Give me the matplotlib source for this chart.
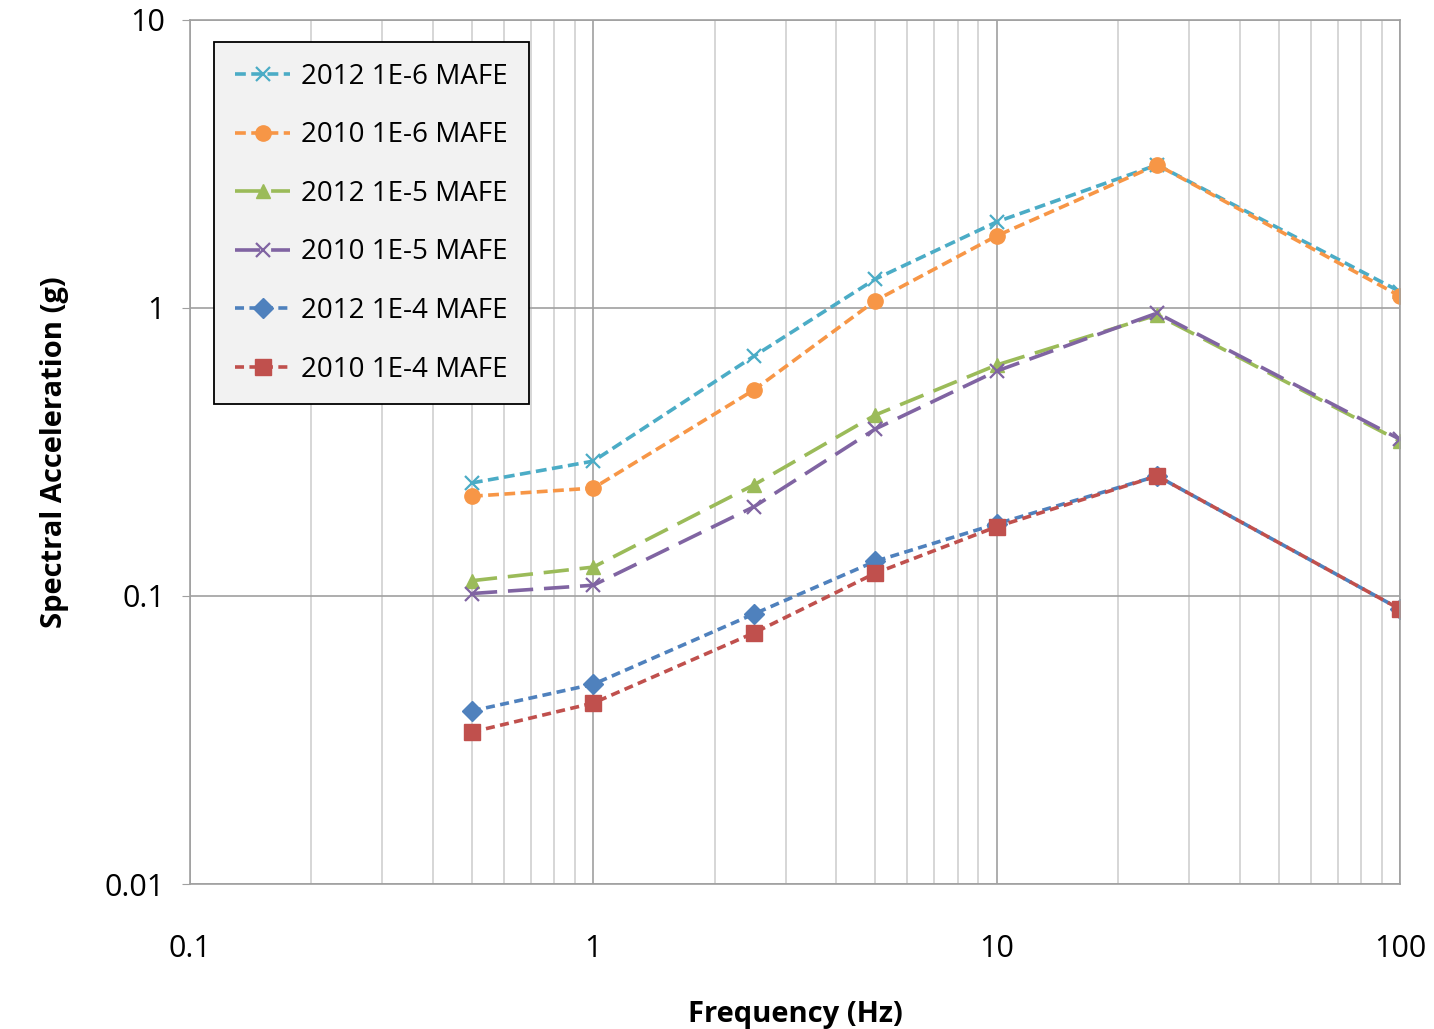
import matplotlib
matplotlib.use("Agg")
import matplotlib.pyplot as plt
import matplotlib.ticker as ticker

plt.rcParams['font.family'] = ['Open Sans', 'DejaVu Sans']

# frequencies (Hz)
freq = [0.5, 1, 2.5, 5, 10, 25, 100]

sa_2012_1e6 = [0.247, 0.294, 0.68, 1.26, 1.99, 3.14, 1.14]
sa_2010_1e6 = [0.222, 0.237, 0.519, 1.06, 1.78, 3.14, 1.10]
sa_2012_1e5 = [0.113, 0.126, 0.243, 0.425, 0.634, 0.946, 0.345]
sa_2010_1e5 = [0.102, 0.109, 0.204, 0.38, 0.604, 0.96, 0.35]
sa_2012_1e4 = [0.0399, 0.0494, 0.0866, 0.132, 0.178, 0.261, 0.090]
sa_2010_1e4 = [0.0337, 0.0425, 0.0744, 0.120, 0.174, 0.261, 0.090]

labels = ["2012 1E-6 MAFE", "2010 1E-6 MAFE", "2012 1E-5 MAFE",
          "2010 1E-5 MAFE", "2012 1E-4 MAFE", "2010 1E-4 MAFE"]
colors = ['#4BACC6', '#F79646', '#9BBB59', '#8064A2', '#4F81BD', '#C0504D']
markers = ['x', 'o', '^', 'x', 'D', 's']
dashes = [(3, 1.5), (3, 1.5), (7, 3), (7, 3), (2.5, 1.5), (2.5, 1.5)]
series = [sa_2012_1e6, sa_2010_1e6, sa_2012_1e5, sa_2010_1e5, sa_2012_1e4, sa_2010_1e4]

fig = plt.figure(figsize=(14.34, 10.29), dpi=100)
ax = fig.add_axes([0.1325, 0.1409, 0.8438, 0.8397])

for s, lab, c, m, d in zip(series, labels, colors, markers, dashes):
    ms = 11 if m in ('o', 's') else 10
    ax.plot(freq, s, color=c, marker=m, markersize=ms, lw=2.6, dashes=d,
            label=lab, markeredgewidth=1.6 if m == 'x' else 1)

ax.set_xscale('log')
ax.set_yscale('log')
ax.set_xlim(0.1, 100)
ax.set_ylim(0.01, 10)

ax.xaxis.set_major_locator(ticker.FixedLocator([0.1, 1, 10, 100]))
ax.xaxis.set_major_formatter(ticker.FixedFormatter(['0.1', '1', '10', '100']))
ax.yaxis.set_major_locator(ticker.FixedLocator([0.01, 0.1, 1, 10]))
ax.yaxis.set_major_formatter(ticker.FixedFormatter(['0.01', '0.1', '1', '10']))
ax.xaxis.set_minor_locator(ticker.LogLocator(base=10, subs=range(2, 10)))
ax.yaxis.set_minor_locator(ticker.NullLocator())
ax.xaxis.set_minor_formatter(ticker.NullFormatter())

ax.grid(which='major', color='#A0A0A0', lw=1.2)
ax.grid(which='minor', axis='x', color='#D0D0D0', lw=1.2)
ax.set_axisbelow(True)
for sp in ax.spines.values():
    sp.set_color('#A0A0A0')
    sp.set_linewidth(1.2)

ax.tick_params(axis='both', which='major', labelsize=22, color='#A0A0A0', length=6)
ax.tick_params(axis='x', which='major', pad=36, length=0)
ax.tick_params(axis='x', which='minor', length=0)
ax.tick_params(axis='y', pad=12)

ax.set_xlabel("Frequency (Hz)", fontsize=21, fontweight='bold', labelpad=26)
ax.set_ylabel("Spectral Acceleration (g)", fontsize=21, fontweight='bold', labelpad=26)

leg = ax.legend(loc='upper left', bbox_to_anchor=(0.0198, 0.9745), fontsize=20,
                frameon=True, fancybox=False, edgecolor='black',
                facecolor='#F2F2F2', framealpha=1, handlelength=2.0,
                labelspacing=1.1, borderpad=0.75, handletextpad=0.4,
                borderaxespad=0)
leg.get_frame().set_linewidth(1.3)

fig.savefig("out.png", dpi=100)
